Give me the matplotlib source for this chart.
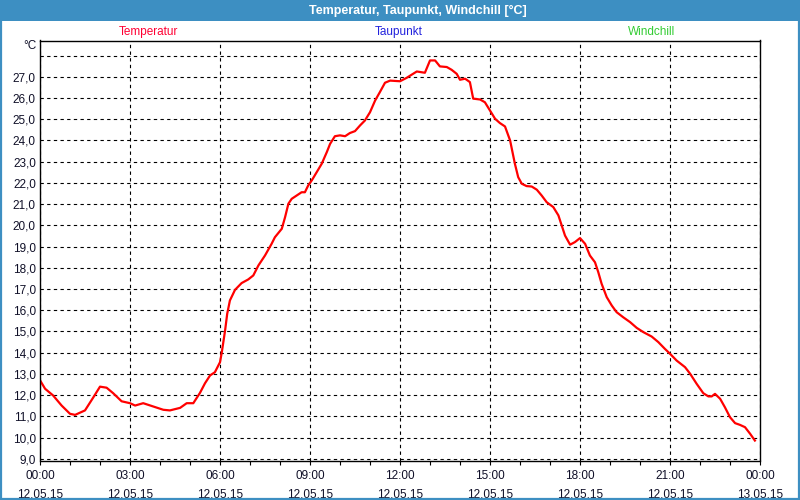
import matplotlib
matplotlib.use('Agg')
import matplotlib.pyplot as plt
from matplotlib.patches import Rectangle
from matplotlib.ticker import MultipleLocator

# ---- data ----
hours = [0.0, 0.17, 0.44, 0.72, 1.0, 1.17, 1.5, 1.78, 2.0, 2.22, 2.44, 2.72, 3.0, 3.17,
         3.44, 3.78, 4.11, 4.33, 4.67, 4.89, 5.11, 5.33, 5.5, 5.67, 5.83, 6.0, 6.06,
         6.17, 6.24, 6.33, 6.5, 6.72, 6.94, 7.11, 7.28, 7.5, 7.72, 7.83, 8.06, 8.17,
         8.28, 8.39, 8.56, 8.72, 8.83, 8.94, 9.06, 9.22, 9.39, 9.56, 9.67, 9.83, 10.0,
         10.17, 10.33, 10.5, 10.67, 10.83, 11.0, 11.17, 11.33, 11.5, 11.67, 12.0, 12.22,
         12.39, 12.56, 12.83, 13.0, 13.17, 13.33, 13.56, 13.72, 13.89, 14.0, 14.17,
         14.33, 14.44, 14.67, 14.83, 15.0, 15.17, 15.33, 15.5, 15.67, 15.83, 15.94,
         16.06, 16.22, 16.39, 16.56, 16.72, 16.89, 17.11, 17.28, 17.39, 17.5, 17.67,
         17.83, 18.0, 18.17, 18.33, 18.5, 18.61, 18.72, 18.89, 19.06, 19.22, 19.44,
         19.67, 19.89, 20.11, 20.39, 20.61, 20.83, 21.0, 21.22, 21.5, 21.67, 21.89,
         22.11, 22.28, 22.39, 22.5, 22.67, 22.83, 23.0, 23.17, 23.33, 23.5, 23.67, 23.83]
temperature = [12.7, 12.3, 11.98, 11.51, 11.12, 11.07, 11.28, 11.9, 12.4, 12.35, 12.09,
               11.71, 11.62, 11.51, 11.62, 11.46, 11.31, 11.28, 11.4, 11.62, 11.62, 12.1,
               12.56, 12.93, 13.08, 13.55, 14.02, 15.05, 15.83, 16.46, 16.96, 17.28,
               17.45, 17.64, 18.11, 18.58, 19.13, 19.44, 19.84, 20.39, 21.02, 21.25,
               21.41, 21.56, 21.56, 21.88, 22.12, 22.5, 22.9, 23.45, 23.84, 24.2, 24.24,
               24.2, 24.35, 24.44, 24.71, 24.94, 25.33, 25.88, 26.28, 26.72, 26.82,
               26.79, 26.95, 27.1, 27.25, 27.19, 27.77, 27.77, 27.49, 27.46, 27.33,
               27.14, 26.86, 26.91, 26.75, 25.97, 25.93, 25.8, 25.41, 25.02, 24.82,
               24.66, 24.0, 22.9, 22.27, 21.96, 21.85, 21.83, 21.68, 21.41, 21.09,
               20.86, 20.47, 20.0, 19.52, 19.09, 19.21, 19.4, 19.13, 18.58, 18.26,
               17.79, 17.25, 16.62, 16.22, 15.91, 15.67, 15.44, 15.17, 14.97, 14.76,
               14.5, 14.18, 13.95, 13.63, 13.32, 13.01, 12.53, 12.09, 11.94, 11.94,
               12.06, 11.83, 11.43, 10.96, 10.68, 10.6, 10.49, 10.18, 9.86]

x_tick_hours = [0, 3, 6, 9, 12, 15, 18, 21, 24]
x_tick_labels = ["00:00\n12.05.15", "03:00\n12.05.15", "06:00\n12.05.15",
                 "09:00\n12.05.15", "12:00\n12.05.15", "15:00\n12.05.15",
                 "18:00\n12.05.15", "21:00\n12.05.15", "00:00\n13.05.15"]
y_grid_values = list(range(9, 29))
y_tick_labels = [f"{v},0" if v <= 27 else "" for v in y_grid_values]
legend_labels = ["Temperatur", "Taupunkt", "Windchill"]
legend_colors = ["#ff0033", "#2222dd", "#33cc33"]
title = "Temperatur, Taupunkt, Windchill [°C]"
unit = "°C"

W, H = 800, 500
BAR = "#3d8fc2"
TXT = "#101028"

fig = plt.figure(figsize=(8, 5), dpi=100)
fig.patch.set_facecolor("white")

ax = fig.add_axes([40 / W, (H - 460.5) / H, 720 / W, 420 / H])
ax.plot(hours, temperature, color="#ff0000", lw=1.6, solid_joinstyle="round")
ax.set_xlim(0, 24)
ax.set_ylim(8.92, 28.71)

ax.set_xticks(x_tick_hours)
ax.set_xticklabels(x_tick_labels, fontsize=8.5, family="Liberation Sans",
                   color=TXT, linespacing=1.7)
ax.xaxis.set_minor_locator(MultipleLocator(1))
ax.tick_params(axis="x", which="both", direction="out", length=3, width=0.8,
               pad=4, color="black")
ax.set_yticks(y_grid_values)
ax.set_yticklabels(y_tick_labels, fontsize=8.5, family="Liberation Sans", color=TXT)
ax.tick_params(axis="y", length=0, pad=3)

ax.grid(True, which="major", color="black", linestyle=(0, (3, 3)), lw=0.8)
for s in ax.spines.values():
    s.set_color("black")
    s.set_linewidth(1.0)

# title bar and frame
fig.add_artist(Rectangle((0, 1 - 21 / H), 1, 21 / H, transform=fig.transFigure,
                         facecolor=BAR, edgecolor="none"))
fig.add_artist(Rectangle((0.001, 0.002), 0.998, 0.996, transform=fig.transFigure,
                         fill=False, edgecolor=BAR, lw=1.6))
fig.text(418 / W, 1 - 10.5 / H, title, color="white", fontsize=9, weight="bold",
         family="Liberation Sans", ha="center", va="center")

legend_x = [148, 399, 652]
for lbl, col, lx in zip(legend_labels, legend_colors, legend_x):
    fig.text(lx / W, 1 - 32 / H, lbl, color=col, fontsize=8.5,
             family="Liberation Sans", ha="center", va="center")

fig.text(37 / W, 1 - 46 / H, unit, color=TXT, fontsize=8.5,
         family="Liberation Sans", ha="right", va="center")

fig.savefig("out.png", dpi=100)
